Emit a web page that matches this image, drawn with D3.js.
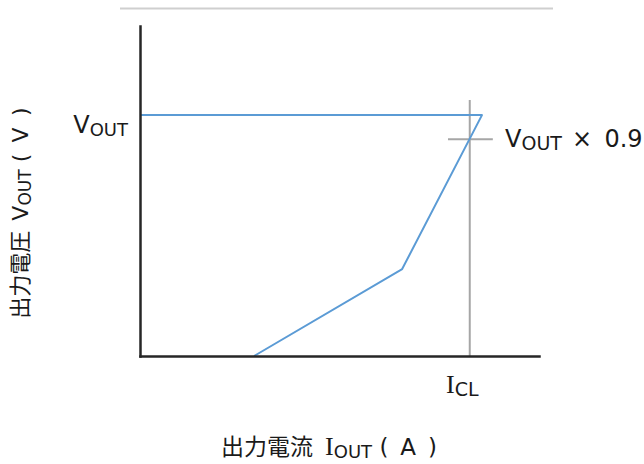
<!DOCTYPE html>
<html>
<head>
<meta charset="utf-8">
<script src="https://cdn.jsdelivr.net/npm/d3@7"></script>
<style>
  body { margin: 0; background: #fff; }
  text { font-family: "DejaVu Sans", "Noto Sans CJK JP", sans-serif; fill: #1a1a1a; white-space: pre; }
  .serif { font-family: "Liberation Serif", serif; }
</style>
</head>
<body>
<div id="chart"></div>
<script>
// Output current in units of I_CL, output voltage in units of V_OUT
const curveI = [0.346, 0.795, 1.037, 0];
const curveV = [0, 0.361, 1, 1];
const iclValue = 1;
const voutRatio = 0.9;
const markerSpan = [0.934, 1.07];
const iclLineTop = 1.063;

const width = 644,
    height = 464;

const svg = d3.select("#chart").append("svg")
    .attr("width", width)
    .attr("height", height);

const x = d3.scaleLinear().domain([0, 1.21]).range([140, 539]);
const y = d3.scaleLinear().domain([0, 1.37]).range([356, 26]);

// separator line on top
svg.append("line")
    .attr("x1", 120).attr("x2", 553)
    .attr("y1", 8.5).attr("y2", 8.5)
    .attr("stroke", "#cfcfcf")
    .attr("stroke-width", 2);

// gray crosshair at I_CL / V_OUT x 0.9
svg.append("line")
    .attr("x1", x(iclValue)).attr("x2", x(iclValue))
    .attr("y1", y(0)).attr("y2", y(iclLineTop))
    .attr("stroke", "#a6a6a6")
    .attr("stroke-width", 2);
svg.append("line")
    .attr("x1", x(markerSpan[0])).attr("x2", x(markerSpan[1]))
    .attr("y1", y(voutRatio)).attr("y2", y(voutRatio))
    .attr("stroke", "#a6a6a6")
    .attr("stroke-width", 2);

// characteristic curve
const pts = curveI.map((d, i) => [d, curveV[i]]);
svg.append("path")
    .datum(pts)
    .attr("fill", "none")
    .attr("stroke", "#5b9bd5")
    .attr("stroke-width", 2)
    .attr("stroke-linejoin", "round")
    .attr("d", d3.line().x(d => x(d[0])).y(d => y(d[1])));

// axes (just the lines)
svg.append("g")
    .attr("transform", `translate(0,${y(0)})`)
    .call(d3.axisBottom(x).tickValues([]).tickSizeOuter(0));
svg.append("g")
    .attr("transform", `translate(${x(0)},0)`)
    .call(d3.axisLeft(y).tickValues([]).tickSizeOuter(0));
svg.selectAll(".domain")
    .attr("stroke", "#262626")
    .attr("stroke-width", 2.5)
    .attr("stroke-linecap", "square");

// labels
const vout = svg.append("text")
    .attr("x", 128).attr("y", y(1) + 18)
    .attr("text-anchor", "end")
    .style("font-size", "24px");
vout.append("tspan").text("V");
vout.append("tspan").attr("dy", 3).style("font-size", "18px").text("OUT");

const v09 = svg.append("text")
    .attr("x", 505).attr("y", y(voutRatio) + 8)
    .style("font-size", "24px");
v09.append("tspan").text("V");
v09.append("tspan").attr("dy", 3).style("font-size", "19px").text("OUT");
v09.append("tspan").attr("dy", -3).attr("dx", 10).text("×\u00a0\u20090.9");

const icl = svg.append("text")
    .attr("x", 446).attr("y", 393)
    .style("font-size", "24px");
icl.append("tspan").attr("class", "serif").style("font-size", "26px").text("I");
icl.append("tspan").attr("dy", 3).style("font-size", "19px").text("CL");

const xt = svg.append("text")
    .attr("x", 329).attr("y", 455)
    .attr("text-anchor", "middle")
    .style("font-size", "23px");
xt.append("tspan").text("出力電流");
xt.append("tspan").attr("class", "serif").attr("dx", 12).style("font-size", "26px").text("I");
xt.append("tspan").attr("dy", 3).style("font-size", "18px").text("OUT");
xt.append("tspan").attr("dy", -3).text("\u00a0(\u00a0\u2009A\u2009\u00a0)");

const yt = svg.append("text")
    .attr("transform", "translate(28,213) rotate(-90)")
    .attr("text-anchor", "middle")
    .style("font-size", "22px");
yt.append("tspan").text("出力電圧");
yt.append("tspan").attr("dx", 10).text("V");
yt.append("tspan").attr("dy", 3).style("font-size", "17px").text("OUT");
yt.append("tspan").attr("dy", -3).text("\u00a0(\u00a0\u2009V\u2009\u00a0)");
</script>
</body>
</html>
